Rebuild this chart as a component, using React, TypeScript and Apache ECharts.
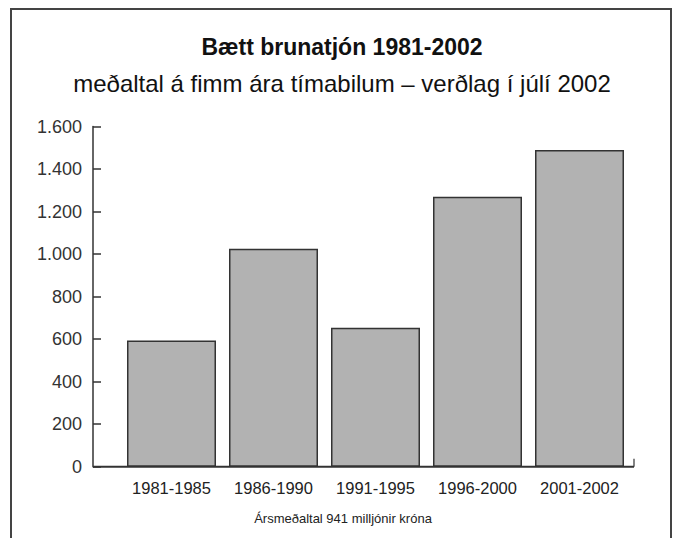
import React, { useEffect, useRef } from "react";
import * as echarts from "echarts";

const categories = ["1981-1985", "1986-1990", "1991-1995", "1996-2000", "2001-2002"];
const values = [594, 1025, 654, 1270, 1490];
const yMin = 0;
const yMax = 1600;
const yInterval = 200;
const titleText = "Bætt brunatjón 1981-2002";
const subtitleText = "meðaltal á fimm ára tímabilum – verðlag í júlí 2002";
const footnoteText = "Ársmeðaltal 941 milljónir króna";

const FONT = "'Liberation Sans', Arial, sans-serif";
const W = 677;
const H = 538;
const GRID_LEFT = 120.5;
const GRID_RIGHT = 46.5;
const GRID_TOP = 126.5;
const GRID_BOTTOM = 71.3;
const Y_OFFSET = 27.5;
const AXIS_X = GRID_LEFT - Y_OFFSET;
const AXIS_END_X = 634;

function fmt(v: number): string {
  return String(v).replace(/\B(?=(\d{3})+(?!\d))/g, ".");
}

export default function App() {
  const ref = useRef<HTMLDivElement>(null);
  useEffect(() => {
    if (!ref.current) return;
    const chart = echarts.init(ref.current, null, { renderer: "svg" });
    chart.setOption({
      animation: false,
      backgroundColor: "#ffffff",
      grid: { left: GRID_LEFT, right: GRID_RIGHT, top: GRID_TOP, bottom: GRID_BOTTOM },
      xAxis: {
        type: "category",
        data: categories,
        axisLine: { show: false },
        axisTick: { show: false },
        axisLabel: { color: "#222", fontFamily: FONT, fontSize: 16.5, margin: 13, interval: 0 },
      },
      yAxis: {
        type: "value",
        min: yMin,
        max: yMax,
        interval: yInterval,
        offset: Y_OFFSET,
        axisLine: { show: true, lineStyle: { color: "#333", width: 1.5 } },
        axisTick: { show: true, inside: true, length: 8, lineStyle: { color: "#333", width: 1.5 } },
        splitLine: { show: false },
        axisLabel: {
          color: "#333",
          fontFamily: FONT,
          fontSize: 18,
          margin: 11,
          formatter: (v: number) => fmt(v),
        },
      },
      series: [
        {
          type: "bar",
          data: values,
          barWidth: 89,
          itemStyle: { color: "#b2b2b2", borderColor: "#333", borderWidth: 1.5 },
        },
      ],
    });
    const y0 = chart.convertToPixel({ yAxisIndex: 0 }, 0) as number;
    chart.setOption({
      graphic: [
        {
          type: "rect",
          shape: { x: 11, y: 9, width: 660, height: 560 },
          style: { fill: "none", stroke: "#444", lineWidth: 2 },
          silent: true,
        },
        {
          type: "line",
          shape: { x1: AXIS_X, y1: y0, x2: AXIS_END_X, y2: y0 },
          style: { stroke: "#333", lineWidth: 2 },
        },
        {
          type: "line",
          shape: { x1: AXIS_END_X, y1: y0, x2: AXIS_END_X, y2: y0 - 8 },
          style: { stroke: "#333", lineWidth: 1.2 },
        },
        {
          type: "text",
          x: 342,
          y: 47,
          style: {
            text: titleText,
            fill: "#111",
            font: `bold 23px ${FONT}`,
            textAlign: "center",
            textVerticalAlign: "middle",
          },
        },
        {
          type: "text",
          x: 342,
          y: 83,
          style: {
            text: subtitleText,
            fill: "#111",
            font: `24px ${FONT}`,
            textAlign: "center",
            textVerticalAlign: "middle",
          },
        },
        {
          type: "text",
          x: 343,
          y: 518,
          style: {
            text: footnoteText,
            fill: "#222",
            font: `13px ${FONT}`,
            textAlign: "center",
            textVerticalAlign: "middle",
          },
        },
      ],
    });
    return () => chart.dispose();
  }, []);
  return (
    <div
      ref={ref}
      style={{ position: "fixed", left: 0, top: 0, width: W, height: H }}
    />
  );
}
